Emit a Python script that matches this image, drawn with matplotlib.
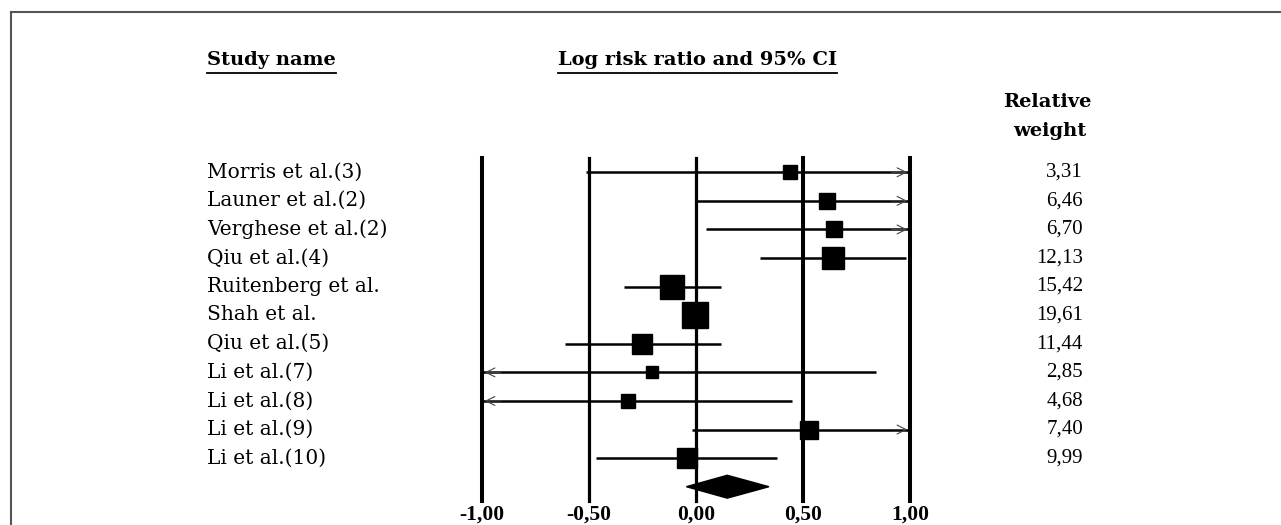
import numpy as np
import matplotlib
matplotlib.use("Agg")
import matplotlib.pyplot as plt
from matplotlib.lines import Line2D
from matplotlib.patches import Polygon

studies = ["Morris et al.(3)", "Launer et al.(2)", "Verghese et al.(2)", "Qiu et al.(4)",
           "Ruitenberg et al.", "Shah et al.", "Qiu et al.(5)", "Li et al.(7)",
           "Li et al.(8)", "Li et al.(9)", "Li et al.(10)"]
log_rr = [0.44, 0.61, 0.645, 0.64, -0.11, -0.005, -0.25, -0.204, -0.318, 0.53, -0.043]
ci_low = [-0.515, 0.0, 0.045, 0.30, -0.336, -0.06, -0.612, -1.25, -1.20, -0.02, -0.466]
ci_high = [1.25, 1.20, 1.15, 0.98, 0.118, 0.05, 0.118, 0.843, 0.45, 1.20, 0.38]
weights = [3.31, 6.46, 6.70, 12.13, 15.42, 19.61, 11.44, 2.85, 4.68, 7.40, 9.99]
summary = (0.146, -0.045, 0.341)  # estimate, lower, upper
ticks = [-1.0, -0.5, 0.0, 0.5, 1.0]

W, H = 1281, 525
fx = lambda px: px / W
fy = lambda py: 1 - py / H

plt.rcParams['font.family'] = ['Liberation Serif', 'DejaVu Serif']
fig = plt.figure(figsize=(W / 100, H / 100), dpi=100)
fig.patch.set_facecolor('white')

# forest plot axes: x=-1 at px 482, x=1 at px 910; rows 0..11 between px 158 and 501
ax = fig.add_axes([fx(482), fy(501), (910 - 482) / W, (501 - 158) / H])
ax.set_xlim(-1, 1)
ax.set_ylim(11.5, -0.5)
ax.axis('off')

for t in ticks:
    ax.axvline(t, color='black', lw=2.9 if t in (-1.0, 0.5, 1.0) else 2.3, zorder=1, clip_on=False)

n = len(studies)
for i in range(n):
    lo = max(ci_low[i], -1.0)
    hi = min(ci_high[i], 1.0)
    ax.plot([lo, hi], [i, i], color='black', lw=1.8, solid_capstyle='butt', zorder=2, clip_on=False)
    if ci_high[i] > 1.0:
        ax.annotate('', xy=(1.0, i), xytext=(0.9, i), annotation_clip=False,
                    arrowprops=dict(arrowstyle='->', color='#444444', lw=0.8, mutation_scale=16))
    if ci_low[i] < -1.0:
        ax.annotate('', xy=(-1.0, i), xytext=(-0.9, i), annotation_clip=False,
                    arrowprops=dict(arrowstyle='->', color='#444444', lw=0.8, mutation_scale=16))
    size_px = 4 + 5 * np.sqrt(weights[i])
    ax.plot(log_rr[i], i, marker='s', color='black', markersize=size_px * 0.72, zorder=3)

est, slo, shi = summary
h = 0.4
ax.add_patch(Polygon([[slo, n], [est, n - h], [shi, n], [est, n + h]],
                     closed=True, facecolor='black', edgecolor='black', zorder=3))

# tick labels
for t in ticks:
    x_px = 482 + (t + 1) / 2 * (910 - 482)
    lab = ('%.2f' % t).replace('.', ',')
    fig.text(fx(x_px), fy(515), lab, ha='center', va='center', fontsize=15.5, fontweight='bold')

# study names and weights
for i in range(n):
    y_px = 172 + i * 28.6
    fig.text(fx(207), fy(y_px), studies[i], ha='left', va='center', fontsize=14.5,
             family='DejaVu Serif')
    fig.text(fx(1083), fy(y_px), ('%.2f' % weights[i]).replace('.', ','),
             ha='right', va='center', fontsize=15)

# headers
h1 = fig.text(fx(207), fy(60), "Study name", ha='left', va='center', fontsize=14,
              fontweight='bold', family='DejaVu Serif')
h2 = fig.text(fx(558), fy(60), "Log risk ratio and 95% CI", ha='left', va='center',
              fontsize=14, fontweight='bold', family='DejaVu Serif')
fig.text(fx(1047), fy(102), "Relative", ha='center', va='center', fontsize=14,
         fontweight='bold', family='DejaVu Serif')
fig.text(fx(1050), fy(131), "weight", ha='center', va='center', fontsize=14,
         fontweight='bold', family='DejaVu Serif')

fig.canvas.draw()
r = fig.canvas.get_renderer()
for t in (h1, h2):
    bb = t.get_window_extent(renderer=r)
    fig.add_artist(Line2D([bb.x0 / W, bb.x1 / W], [fy(73), fy(73)], color='black', lw=1.3))

# outer frame (top and left edges)
fig.add_artist(Line2D([fx(11), 1], [fy(12), fy(12)], color='#555555', lw=1.5))
fig.add_artist(Line2D([fx(11), fx(11)], [fy(12), 0], color='#555555', lw=1.5))

fig.savefig('out.png', dpi=100, facecolor='white')
